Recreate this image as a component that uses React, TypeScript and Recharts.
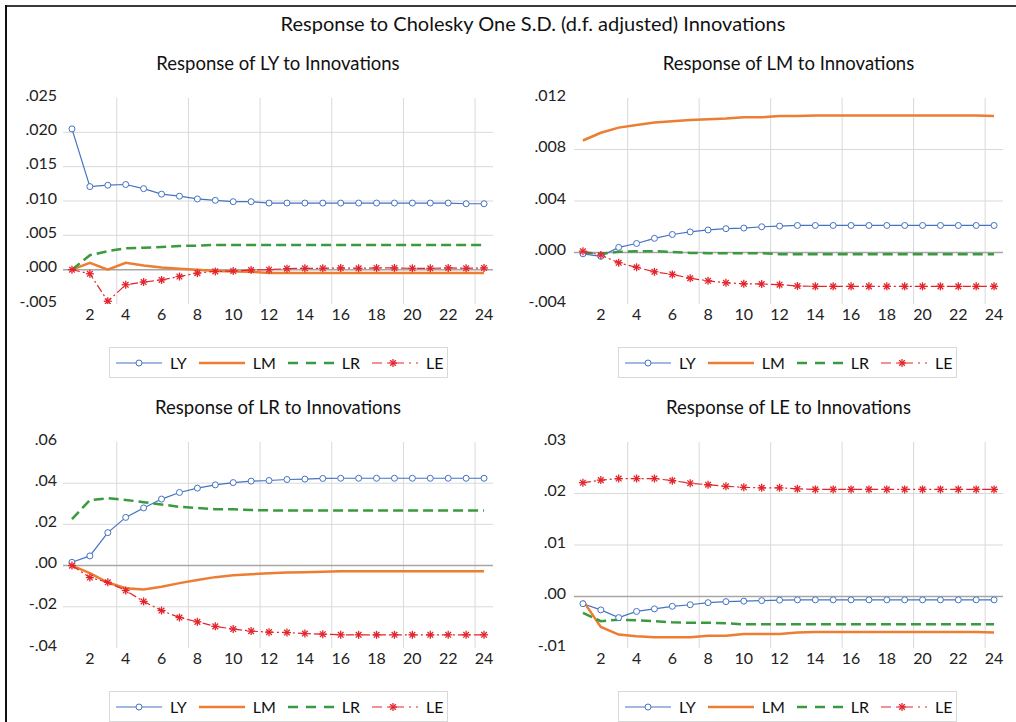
import React from 'react';
import { LineChart, Line, XAxis, YAxis, ReferenceLine, Legend } from 'recharts';

const FONT = "Lato, 'Liberation Sans', sans-serif";

const periods = [1, 2, 3, 4, 5, 6, 7, 8, 9, 10, 11, 12, 13, 14, 15, 16, 17, 18, 19, 20, 21, 22, 23, 24];
const xTicks = [2, 4, 6, 8, 10, 12, 14, 16, 18, 20, 22, 24];
const xGrid = [3.5, 7.5, 11.5, 15.5, 19.5, 23.5];
const seriesNames = ['LY', 'LM', 'LR', 'LE'];

// Response of LY
const lyLY = [0.0205, 0.0121, 0.0123, 0.0124, 0.0118, 0.0110, 0.0107, 0.0103, 0.0101, 0.0099, 0.0099, 0.0097, 0.0097, 0.0097, 0.0097, 0.0097, 0.0097, 0.0097, 0.0097, 0.0097, 0.0097, 0.0097, 0.0096, 0.0096];
const lyLM = [0, 0.0010, 0.0000, 0.0010, 0.0006, 0.0003, 0.00015, 0.0000, -0.0002, -0.00025, -0.0003, -0.0005, -0.0005, -0.0005, -0.0005, -0.0005, -0.0005, -0.0005, -0.0005, -0.0005, -0.0005, -0.0005, -0.0005, -0.0005];
const lyLR = [0, 0.0021, 0.0027, 0.0031, 0.0032, 0.0033, 0.00345, 0.0035, 0.0036, 0.0036, 0.0036, 0.0036, 0.0036, 0.0036, 0.0036, 0.0036, 0.0036, 0.0036, 0.0036, 0.0036, 0.0036, 0.0036, 0.0036, 0.0036];
const lyLE = [0, -0.0006, -0.0046, -0.0022, -0.0018, -0.0015, -0.0010, -0.0005, -0.00025, -0.0002, -0.00005, 0, 0.00015, 0.0002, 0.0002, 0.00025, 0.0002, 0.00025, 0.00025, 0.0002, 0.0002, 0.00025, 0.0002, 0.00025];

// Response of LM
const lmLY = [-0.0001, -0.0003, 0.0004, 0.0007, 0.0011, 0.0014, 0.0016, 0.00175, 0.00185, 0.0019, 0.0020, 0.00205, 0.0021, 0.0021, 0.0021, 0.0021, 0.0021, 0.0021, 0.0021, 0.0021, 0.0021, 0.0021, 0.0021, 0.0021];
const lmLM = [0.0087, 0.0093, 0.0097, 0.0099, 0.0101, 0.0102, 0.0103, 0.01035, 0.0104, 0.0105, 0.0105, 0.0106, 0.0106, 0.01065, 0.01065, 0.01065, 0.01065, 0.01065, 0.01065, 0.01065, 0.01065, 0.01065, 0.01065, 0.0106];
const lmLR = [0, -0.0001, 0.00005, 0.0001, 0.0001, 0.00005, -0.00003, -0.00005, -0.00005, -0.00005, -0.00005, -0.00013, -0.00013, -0.00013, -0.00013, -0.00013, -0.00013, -0.00013, -0.00013, -0.00013, -0.00013, -0.00013, -0.00013, -0.00013];
const lmLE = [0.0001, -0.0002, -0.0008, -0.00115, -0.0015, -0.0017, -0.0020, -0.0022, -0.00235, -0.00243, -0.00245, -0.0025, -0.0026, -0.00263, -0.00263, -0.00263, -0.00263, -0.00263, -0.00263, -0.00263, -0.00263, -0.00263, -0.00263, -0.00263];

// Response of LR
const lrLY = [0.0016, 0.0047, 0.0160, 0.0234, 0.0280, 0.0323, 0.0355, 0.0376, 0.0392, 0.0403, 0.0410, 0.0413, 0.0418, 0.0420, 0.0423, 0.0424, 0.0424, 0.0424, 0.0424, 0.0424, 0.0424, 0.0424, 0.0424, 0.0424];
const lrLM = [0, -0.0037, -0.0082, -0.0110, -0.0116, -0.0103, -0.0085, -0.0070, -0.0056, -0.0047, -0.0042, -0.0037, -0.0034, -0.0032, -0.0030, -0.0027, -0.0027, -0.0027, -0.0027, -0.0027, -0.0027, -0.0027, -0.0027, -0.0027];
const lrLR = [0.0226, 0.0318, 0.0327, 0.0319, 0.0308, 0.0297, 0.0285, 0.0280, 0.0274, 0.0273, 0.0270, 0.0268, 0.0268, 0.0268, 0.0268, 0.0268, 0.0268, 0.0268, 0.0268, 0.0268, 0.0268, 0.0268, 0.0268, 0.0268];
const lrLE = [0, -0.0058, -0.0081, -0.0121, -0.0174, -0.0218, -0.0252, -0.0273, -0.0295, -0.0308, -0.0318, -0.0323, -0.0325, -0.0330, -0.0333, -0.0336, -0.0336, -0.0336, -0.0336, -0.0336, -0.0336, -0.0336, -0.0336, -0.0336];

// Response of LE
const leLY = [-0.0014, -0.0026, -0.0041, -0.0029, -0.0024, -0.0019, -0.0016, -0.0012, -0.0010, -0.0009, -0.0008, -0.0007, -0.00065, -0.00065, -0.00065, -0.00065, -0.00065, -0.00065, -0.00065, -0.00065, -0.00065, -0.00065, -0.00065, -0.00065];
const leLM = [-0.0008, -0.0059, -0.0074, -0.0077, -0.0079, -0.0079, -0.0079, -0.0076, -0.0076, -0.0073, -0.0073, -0.0073, -0.0070, -0.0069, -0.0069, -0.0069, -0.0069, -0.0069, -0.0069, -0.0069, -0.0069, -0.0069, -0.0069, -0.0070];
const leLR = [-0.0032, -0.0048, -0.0045, -0.0046, -0.0048, -0.0050, -0.0051, -0.0051, -0.0052, -0.0054, -0.0054, -0.0054, -0.0054, -0.0054, -0.0054, -0.0054, -0.0054, -0.0054, -0.0054, -0.0054, -0.0054, -0.0054, -0.0054, -0.0054];
const leLE = [0.0221, 0.0226, 0.0229, 0.0229, 0.0229, 0.0225, 0.0220, 0.0217, 0.0214, 0.0212, 0.0211, 0.0211, 0.0209, 0.0208, 0.0208, 0.0208, 0.0208, 0.0208, 0.0208, 0.0208, 0.0208, 0.0208, 0.0208, 0.0208];

const lyTicks = [-0.005, 0, 0.005, 0.01, 0.015, 0.02, 0.025];
const lmTicks = [-0.004, 0, 0.004, 0.008, 0.012];
const lrTicks = [-0.04, -0.02, 0, 0.02, 0.04, 0.06];
const leTicks = [-0.01, 0, 0.01, 0.02, 0.03];

const COLORS: Record<string, string> = { LY: '#4472C4', LM: '#ED7D31', LR: '#3A9A3E', LE: '#E3242B' };

const buildRows = (a: number[], b: number[], c: number[], d: number[]) =>
  periods.map((p, i) => ({ period: p, LY: a[i], LM: b[i], LR: c[i], LE: d[i] }));

const fmt = (dec: number) => (v: number) => {
  const s = Math.abs(v).toFixed(dec).replace(/^0/, '');
  return v < 0 ? '-' + s : s;
};

const circleDot = (props: any) => {
  const { cx, cy, index } = props;
  if (cx == null || cy == null) return <g key={'c' + index} />;
  return <circle key={'c' + index} cx={cx} cy={cy} r={3} fill="#fff" stroke={COLORS.LY} strokeWidth={1} />;
};

const Asterisk = ({ cx, cy, r = 4, color }: { cx: number; cy: number; r?: number; color: string }) => {
  const d = r * 0.7071;
  return (
    <g stroke={color} strokeWidth={1.3}>
      <line x1={cx - r} y1={cy} x2={cx + r} y2={cy} />
      <line x1={cx} y1={cy - r} x2={cx} y2={cy + r} />
      <line x1={cx - d} y1={cy - d} x2={cx + d} y2={cy + d} />
      <line x1={cx - d} y1={cy + d} x2={cx + d} y2={cy - d} />
    </g>
  );
};

const starDot = (props: any) => {
  const { cx, cy, index } = props;
  if (cx == null || cy == null) return <g key={'s' + index} />;
  return (
    <g key={'s' + index}>
      <Asterisk cx={cx} cy={cy} color={COLORS.LE} />
    </g>
  );
};

const LINE_STYLE: Record<string, any> = {
  LY: { strokeWidth: 1.2, strokeDasharray: undefined, dot: circleDot },
  LM: { strokeWidth: 2.5, strokeDasharray: undefined, dot: false },
  LR: { strokeWidth: 2.5, strokeDasharray: '10 5', dot: false },
  LE: { strokeWidth: 1.2, strokeDasharray: '8 3 2 3', dot: starDot },
};

const LegendSample = ({ name }: { name: string }) => {
  const color = COLORS[name];
  const st = LINE_STYLE[name];
  return (
    <svg width={46} height={12} style={{ display: 'block' }}>
      <line x1={0} y1={6} x2={46} y2={6} stroke={color} strokeWidth={st.strokeWidth} strokeDasharray={name === 'LR' ? '10 8' : name === 'LE' ? '10 5 2 5' : undefined} />
      {name === 'LY' && <circle cx={23} cy={6} r={3} fill="#fff" stroke={color} strokeWidth={1} />}
      {name === 'LE' && <Asterisk cx={21} cy={6} color={color} />}
    </svg>
  );
};

const renderLegend = (props: any) => {
  const payload = [...(props.payload || [])].sort(
    (a: any, b: any) => seriesNames.indexOf(a.value) - seriesNames.indexOf(b.value)
  );
  return (
    <div
      style={{
        width: 339,
        height: 31,
        boxSizing: 'border-box',
        border: '1.5px solid #D9D9D9',
        background: '#fff',
        display: 'flex',
        alignItems: 'center',
        paddingLeft: 6,
        fontFamily: FONT,
        fontSize: 16,
        color: '#111',
      }}
    >
      {payload.map((p: any) => (
        <div key={p.value} style={{ display: 'flex', alignItems: 'center', marginRight: 12 }}>
          <LegendSample name={p.value} />
          <span style={{ marginLeft: 8 }}>{p.value}</span>
        </div>
      ))}
    </div>
  );
};

type PanelProps = {
  title: string;
  rows: any[];
  ticks: number[];
  dec: number;
  left: number;
  top: number;
  width: number;
  yWidth: number;
  rightMargin: number;
  legendLeft: number;
  ySize: number;
};

const Panel = ({ title, rows, ticks, dec, left, top, width, yWidth, rightMargin, legendLeft, ySize }: PanelProps) => {
  const plotCenter = yWidth + (width - yWidth - rightMargin) / 2;
  const interior = ticks.slice(1, ticks.length - 1);
  return (
    <div style={{ position: 'absolute', left, top, width, height: 293 }}>
      <div
        style={{
          position: 'absolute',
          left: plotCenter - 200,
          top: -35,
          width: 400,
          textAlign: 'center',
          fontFamily: FONT,
          fontSize: 18.5,
          lineHeight: '26px',
          color: '#111',
        }}
      >
        {title}
      </div>
      <LineChart width={width} height={293} data={rows} margin={{ top: 13, right: rightMargin, left: 0, bottom: 0 }}>
        <XAxis
          dataKey="period"
          type="number"
          domain={[0.5, 24.5]}
          ticks={xTicks}
          axisLine={false}
          tickLine={false}
          tickSize={3}
          tickMargin={2}
          height={43}
          interval={0}
          tick={{ fontFamily: FONT, fontSize: 16, fill: '#222' }}
        />
        <YAxis
          type="number"
          domain={[ticks[0], ticks[ticks.length - 1]]}
          ticks={ticks}
          interval={0}
          allowDataOverflow
          axisLine={false}
          tickLine={false}
          tickSize={ySize}
          tickMargin={2}
          width={yWidth}
          tickFormatter={fmt(dec)}
          tick={{ fontFamily: FONT, fontSize: 16, fill: '#222', dy: -3 }}
        />
        {xGrid.map((g) => (
          <ReferenceLine key={'vx' + g} x={g} stroke="#D9D9D9" strokeWidth={1} />
        ))}
        {interior.map((g) =>
          g === 0 ? null : <ReferenceLine key={'hy' + g} y={g} stroke="#D9D9D9" strokeWidth={1} />
        )}
        <ReferenceLine y={0} stroke="#A6A6A6" strokeWidth={1.5} />
        {seriesNames.map((n) => (
          <Line
            key={n}
            type="linear"
            dataKey={n}
            name={n}
            stroke={COLORS[n]}
            strokeWidth={LINE_STYLE[n].strokeWidth}
            strokeDasharray={LINE_STYLE[n].strokeDasharray}
            dot={LINE_STYLE[n].dot}
            activeDot={false}
            isAnimationActive={false}
          />
        ))}
        <Legend
          content={renderLegend}
          height={31}
          wrapperStyle={{ left: legendLeft, top: 262, width: 339, height: 31 }}
        />
      </LineChart>
    </div>
  );
};

export default function App() {
  return (
    <div style={{ position: 'absolute', left: 0, top: 0, width: 1016, height: 722, background: '#fff', overflow: 'hidden' }}>
      <div style={{ position: 'absolute', left: 6, top: 5, width: 1010, height: 2, background: '#3A3A3A' }} />
      <div style={{ position: 'absolute', left: 5, top: 5, width: 2, height: 717, background: '#111' }} />
      <div
        style={{
          position: 'absolute',
          left: 33,
          top: 9,
          width: 1000,
          textAlign: 'center',
          fontFamily: FONT,
          fontSize: 20,
          lineHeight: '28px',
          color: '#111',
        }}
      >
        Response to Cholesky One S.D. (d.f. adjusted) Innovations
      </div>
      <Panel title="Response of LY to Innovations" rows={buildRows(lyLY, lyLM, lyLR, lyLE)} ticks={lyTicks} dec={3}
        left={0} top={85} width={510} yWidth={63} rightMargin={17} legendLeft={109} ySize={4} />
      <Panel title="Response of LM to Innovations" rows={buildRows(lmLY, lmLM, lmLR, lmLE)} ticks={lmTicks} dec={3}
        left={500} top={85} width={516} yWidth={74} rightMargin={13} legendLeft={118} ySize={6} />
      <Panel title="Response of LR to Innovations" rows={buildRows(lrLY, lrLM, lrLR, lrLE)} ticks={lrTicks} dec={2}
        left={0} top={429} width={510} yWidth={63} rightMargin={17} legendLeft={109} ySize={4} />
      <Panel title="Response of LE to Innovations" rows={buildRows(leLY, leLM, leLR, leLE)} ticks={leTicks} dec={2}
        left={500} top={429} width={516} yWidth={74} rightMargin={13} legendLeft={118} ySize={6} />
    </div>
  );
}
